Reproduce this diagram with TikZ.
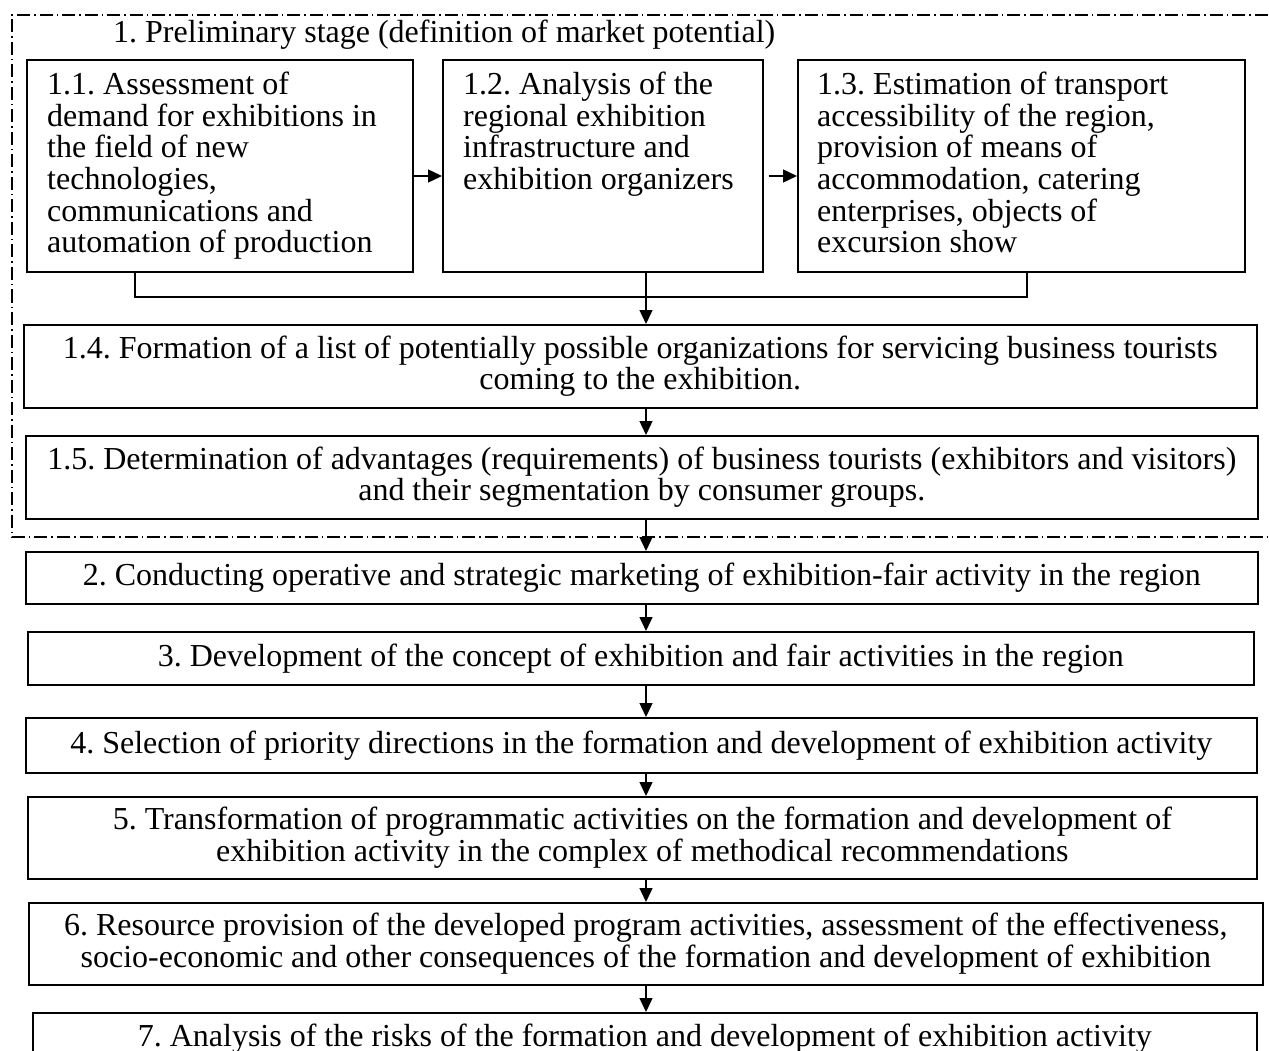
\documentclass[tikz,border=0pt]{standalone}
\usepackage{fontspec}
\setmainfont{Liberation Serif}
\usetikzlibrary{arrows.meta,calc}
\frenchspacing
\begin{document}
\frenchspacing
\begin{tikzpicture}[x=1pt,y=-1pt,
  every node/.style={font=\fontsize{32}{31.6}\selectfont},
  box/.style={draw, line width=1.6pt, inner sep=0pt, anchor=north west},
  txt/.style={inner sep=0pt, anchor=north west, align=left},
  arr/.style={line width=1.4pt, -{Triangle[length=14pt,width=13pt]}},
  ln/.style={line width=1.4pt},
  frame/.style={line width=1.3pt, dash pattern=on 13pt off 4pt on 1.5pt off 4pt}]
\useasboundingbox (0,0) rectangle (1269,1051);
\clip (0,0) rectangle (1269,1051);

% dash-dot frame of stage 1
\draw[frame] (1290,15) -- (12,15) -- (12,537) -- (1290,537);

% title
\node[inner sep=0pt, anchor=base west] (title) at (113,43) {1. Preliminary stage (definition of market potential)};

% top boxes
\node[box, minimum width=386pt, minimum height=212pt] (b11) at (26,59) {};
\node[box, minimum width=320pt, minimum height=212pt] (b12) at (442,59) {};
\node[box, minimum width=447pt, minimum height=212pt] (b13) at (797,59) {};
\node[txt] (t11) at ($(b11.north west)+(21,13)$) {1.1. Assessment of\\demand for exhibitions in\\the field of new\\technologies,\\communications and\\automation of production};
\node[txt] (t12) at ($(b12.north west)+(21,13)$) {1.2. Analysis of the\\regional exhibition\\infrastructure and\\exhibition organizers};
\node[txt] (t13) at ($(b13.north west)+(20,13)$) {1.3. Estimation of transport\\accessibility of the region,\\provision of means of\\accommodation, catering\\enterprises, objects of\\excursion show};

% wide boxes
\node[box, align=center, minimum width=1233pt, minimum height=83pt] (b14) at (23,324) {1.4. Formation of a list of potentially possible organizations for servicing business tourists\\coming to the exhibition.};
\node[box, align=center, minimum width=1232pt, minimum height=83pt] (b15) at (25,435) {1.5. Determination of advantages (requirements) of business tourists (exhibitors and visitors)\\and their segmentation by consumer groups.};
\node[box, align=center, minimum width=1232pt, minimum height=52pt] (b2) at (25,551) {2. Conducting operative and strategic marketing of exhibition-fair activity in the region};
\node[box, align=center, minimum width=1226pt, minimum height=53pt] (b3) at (27,631) {3. Development of the concept of exhibition and fair activities in the region};
\node[box, align=center, minimum width=1231pt, minimum height=55pt] (b4) at (25,717) {4. Selection of priority directions in the formation and development of exhibition activity};
\node[box, align=center, minimum width=1229pt, minimum height=82pt] (b5) at (27,796) {5. Transformation of programmatic activities on the formation and development of\\exhibition activity in the complex of methodical recommendations};
\node[box, align=center, minimum width=1234pt, minimum height=82pt] (b6) at (28,902) {6. Resource provision of the developed program activities, assessment of the effectiveness,\\socio-economic and other consequences of the formation and development of exhibition};
\node[box, align=center, minimum width=1224pt, minimum height=51pt] (b7) at (32,1012) {7. Analysis of the risks of the formation and development of exhibition activity};

% helper coordinates
\coordinate (ax) at (646,0);
\coordinate (hy) at (0,176);
\coordinate (bx1) at (135,0);
\coordinate (bx2) at (1027,0);
\coordinate (by) at (0,297);

% connectors
\draw[arr] (b11.east |- hy) -- (b12.west |- hy);
\draw[arr, shorten <=5pt] (b12.east |- hy) -- (b13.west |- hy);
\draw[ln] (b11.south -| bx1) -- (bx1 |- by) -- (bx2 |- by) -- (b13.south -| bx2);
\draw[arr] (b12.south -| ax) -- (b14.north -| ax);
\draw[arr] (b14.south -| ax) -- (b15.north -| ax);
\draw[arr] (b15.south -| ax) -- (b2.north -| ax);
\draw[arr] (b2.south -| ax) -- (b3.north -| ax);
\draw[arr] (b3.south -| ax) -- (b4.north -| ax);
\draw[arr] (b4.south -| ax) -- (b5.north -| ax);
\draw[arr] (b5.south -| ax) -- (b6.north -| ax);
\draw[arr] (b6.south -| ax) -- (b7.north -| ax);
\end{tikzpicture}
\end{document}
